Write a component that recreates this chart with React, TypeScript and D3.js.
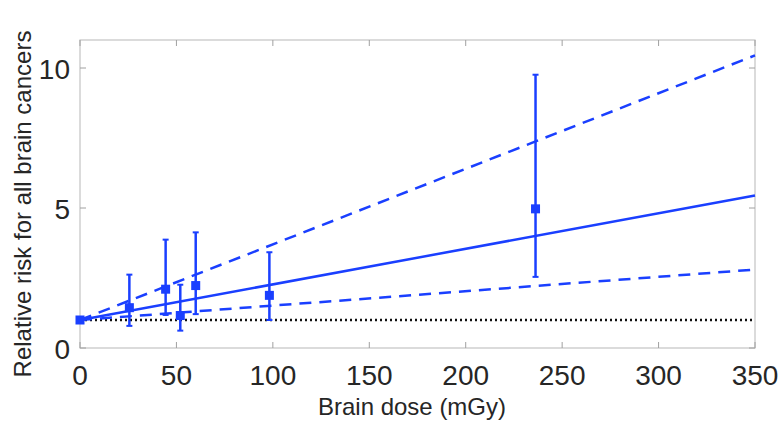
import React, { useEffect, useRef } from 'react';
import * as d3 from 'd3';

// observed relative risk by brain dose
const doses = [0, 25.6, 44.4, 52, 60, 98.2, 236.2];
const relRisk = [1, 1.44, 2.1, 1.16, 2.23, 1.88, 4.97];
const ciLow = [null, 0.79, 1.18, 0.62, 1.21, 1.0, 2.54];
const ciHigh = [null, 2.62, 3.87, 2.26, 4.13, 3.42, 9.76];

// fitted linear model and its 95% band
const fitDose = [0, 350];
const fitRR = [1, 5.45];
const fitUpper = [1, 10.45];
const fitLower = [1, 2.8];

const xTicks = [0, 50, 100, 150, 200, 250, 300, 350];
const yTicks = [0, 5, 10];

const BLUE = '#1a3fff';

const App = () => {
  const svgRef = useRef(null);

  useEffect(() => {
    const svg = d3.select(svgRef.current);
    svg.selectAll('*').remove();

    const left = 80, right = 755, top = 40, bottom = 348;
    const x = d3.scaleLinear().domain([0, 350]).range([left, right]);
    const y = d3.scaleLinear().domain([0, 11]).range([bottom, top]);

    // box
    svg.append('rect')
      .attr('x', left).attr('y', top)
      .attr('width', right - left).attr('height', bottom - top)
      .attr('fill', 'white')
      .attr('stroke', '#c4c4c4')
      .attr('stroke-width', 1.2);

    // inner ticks on all four sides
    xTicks.forEach(t => {
      svg.append('line').attr('x1', x(t)).attr('x2', x(t)).attr('y1', bottom).attr('y2', bottom - 6)
        .attr('stroke', '#a0a0a0');
      svg.append('line').attr('x1', x(t)).attr('x2', x(t)).attr('y1', top).attr('y2', top + 6)
        .attr('stroke', '#a0a0a0');
    });
    yTicks.forEach(t => {
      svg.append('line').attr('x1', left).attr('x2', left + 6).attr('y1', y(t)).attr('y2', y(t))
        .attr('stroke', '#a0a0a0');
      svg.append('line').attr('x1', right).attr('x2', right - 6).attr('y1', y(t)).attr('y2', y(t))
        .attr('stroke', '#a0a0a0');
    });

    svg.selectAll('.xlab')
      .data(xTicks)
      .enter()
      .append('text')
      .attr('x', d => x(d))
      .attr('y', 385)
      .attr('text-anchor', 'middle')
      .attr('fill', '#262626')
      .style('font-size', '28px')
      .text(d => d);

    svg.selectAll('.ylab')
      .data(yTicks)
      .enter()
      .append('text')
      .attr('x', 70)
      .attr('y', d => y(d) + 10.5)
      .attr('text-anchor', 'end')
      .attr('fill', '#262626')
      .style('font-size', '28px')
      .text(d => d);

    // reference line RR = 1
    svg.append('line')
      .attr('x1', x(0)).attr('x2', x(350))
      .attr('y1', y(1)).attr('y2', y(1))
      .attr('stroke', '#111')
      .attr('stroke-width', 2.5)
      .attr('stroke-dasharray', '2 3');

    const line = d3.line().x(d => x(d[0])).y(d => y(d[1]));
    const fits = [
      { v: fitRR, dash: null },
      { v: fitUpper, dash: '12 8' },
      { v: fitLower, dash: '12 8' },
    ];
    fits.forEach(f => {
      svg.append('path')
        .attr('d', line(fitDose.map((d, i) => [d, f.v[i]])))
        .attr('fill', 'none')
        .attr('stroke', BLUE)
        .attr('stroke-width', 2.5)
        .attr('stroke-dasharray', f.dash);
    });

    // error bars
    doses.forEach((d, i) => {
      if (ciLow[i] == null) return;
      svg.append('line')
        .attr('x1', x(d)).attr('x2', x(d))
        .attr('y1', y(ciLow[i])).attr('y2', y(ciHigh[i]))
        .attr('stroke', BLUE).attr('stroke-width', 2.5);
      [ciLow[i], ciHigh[i]].forEach(c => {
        svg.append('line')
          .attr('x1', x(d) - 3).attr('x2', x(d) + 3)
          .attr('y1', y(c)).attr('y2', y(c))
          .attr('stroke', BLUE).attr('stroke-width', 2);
      });
    });

    svg.selectAll('.pt')
      .data(doses)
      .enter()
      .append('rect')
      .attr('x', d => x(d) - 4.5)
      .attr('y', (d, i) => y(relRisk[i]) - 4.5)
      .attr('width', 9)
      .attr('height', 9)
      .attr('fill', BLUE);

    svg.append('text')
      .attr('x', 412)
      .attr('y', 415)
      .attr('text-anchor', 'middle')
      .attr('fill', '#262626')
      .style('font-size', '24px')
      .text('Brain dose (mGy)');

    svg.append('text')
      .attr('transform', 'translate(31, 204) rotate(-90)')
      .attr('text-anchor', 'middle')
      .attr('fill', '#262626')
      .style('font-size', '24px')
      .text('Relative risk for all brain cancers');
  }, []);

  return (
    <svg
      ref={svgRef}
      width={781}
      height={422}
      style={{ position: 'absolute', left: 0, top: 0, fontFamily: 'Liberation Sans, Arial, sans-serif' }}
    ></svg>
  );
};

export default App;
